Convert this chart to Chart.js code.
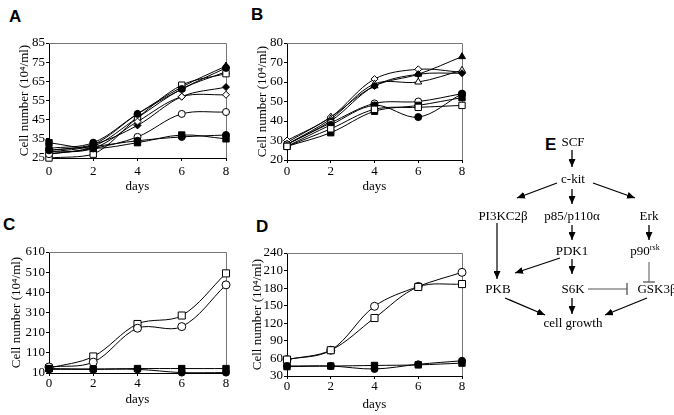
<!DOCTYPE html>
<html>
<head>
<meta charset="utf-8">
<script src="https://cdn.jsdelivr.net/npm/chart.js@4.4.0/dist/chart.umd.min.js"></script>
<style>
  html, body { margin:0; padding:0; background:#fff; }
  #page { position:relative; width:674px; height:415px; overflow:hidden; background:#fff; }
  canvas { position:absolute; }
  .lbl { position:absolute; font-family:'Liberation Sans', Arial, sans-serif; font-weight:bold; font-size:17px; color:#000; line-height:1; }
  svg { position:absolute; left:0; top:0; }
  .serif { font-family: "Liberation Serif", "DejaVu Serif", "Noto Serif", Tinos, "Times New Roman", Times, serif; }
</style>
</head>
<body>
<div id="page">
  <canvas id="cA" width="236" height="172" style="left:0px;top:28px;width:236px;height:172px"></canvas>
  <canvas id="cB" width="232" height="172" style="left:236px;top:28px;width:232px;height:172px"></canvas>
  <canvas id="cC" width="236" height="179" style="left:0px;top:236px;width:236px;height:179px"></canvas>
  <canvas id="cD" width="232" height="179" style="left:236px;top:236px;width:232px;height:179px"></canvas>
  <div class="lbl" style="left:9px;top:8px">A</div>
  <div class="lbl" style="left:251px;top:6px">B</div>
  <div class="lbl" style="left:3px;top:216px">C</div>
  <div class="lbl" style="left:256px;top:218px">D</div>
  <div class="lbl" style="left:545px;top:136px">E</div>
  <svg width="674" height="415" viewBox="0 0 674 415">
    <defs>
      <marker id="ah" markerWidth="8" markerHeight="7" refX="8" refY="3.5" orient="auto" markerUnits="userSpaceOnUse">
        <path d="M0,0 L8,3.5 L0,7 Z" fill="#000"/>
      </marker>
    </defs>
    <g class="serif" font-size="13" fill="#000" text-anchor="middle">
      <text x="573" y="146">SCF</text>
      <text x="573" y="183">c-kit</text>
      <text x="503" y="220">PI3KC2β</text>
      <text x="572" y="220">p85/p110α</text>
      <text x="649" y="220">Erk</text>
      <text x="572" y="255">PDK1</text>
      <text x="645" y="255">p90<tspan font-size="8" dy="-5">rsk</tspan></text>
      <text x="498" y="293">PKB</text>
      <text x="573" y="293">S6K</text>
      <text x="657" y="293">GSK3β</text>
      <text x="573" y="327">cell growth</text>
    </g>
    <g stroke="#000" stroke-width="1.3" fill="none">
      <line x1="572" y1="150" x2="572" y2="167" marker-end="url(#ah)"/>
      <line x1="557" y1="183" x2="517" y2="198" marker-end="url(#ah)"/>
      <line x1="572" y1="189" x2="572" y2="204" marker-end="url(#ah)"/>
      <line x1="593" y1="183" x2="635" y2="198" marker-end="url(#ah)"/>
      <line x1="572" y1="225" x2="572" y2="240" marker-end="url(#ah)"/>
      <line x1="649" y1="225" x2="649" y2="240" marker-end="url(#ah)"/>
      <line x1="560" y1="258" x2="515" y2="273" marker-end="url(#ah)"/>
      <line x1="572" y1="259" x2="572" y2="274" marker-end="url(#ah)"/>
      <line x1="505" y1="298" x2="545" y2="315" marker-end="url(#ah)"/>
      <line x1="572" y1="298" x2="572" y2="314" marker-end="url(#ah)"/>
      <line x1="647" y1="298" x2="605" y2="315" marker-end="url(#ah)"/>
    </g>
    <g stroke="#555" stroke-width="1" fill="none">
      <line x1="497" y1="223" x2="497" y2="279" stroke="#000" stroke-width="1.2" marker-end="url(#ah)"/>
      <line x1="649" y1="262" x2="649" y2="282"/>
      <line x1="643" y1="282" x2="655" y2="282" stroke-width="1.3"/>
      <line x1="588" y1="289" x2="627" y2="289"/>
      <line x1="627" y1="283" x2="627" y2="295" stroke-width="1.3"/>
    </g>
  </svg>
</div>
<script>
// ---------- data ----------
const days = [0, 2, 4, 6, 8];

// Panel A
const ticksA = [25, 35, 45, 55, 65, 75, 85];
const A_triFilled   = [28, 32, 48, 62, 73];
const A_triOpen     = [27, 31, 46, 61, 70];
const A_sqOpen      = [25, 27, 46, 63, 69];
const A_circFilledH = [30, 33, 48, 61, 72];
const A_diaFilled   = [29, 32, 42, 57, 62];
const A_diaOpen     = [28, 30, 44, 57, 58];
const A_circOpen    = [27, 30, 36, 48, 49];
const A_circFilled  = [29, 31, 34, 36, 37];
const A_sqFilled    = [33, 30, 33, 37, 35];

// Panel B
const ticksB = [20, 30, 40, 50, 60, 70, 80];
const B_triFilled  = [29, 42, 58, 64, 73];
const B_diaOpen    = [30, 42, 61.5, 66.5, 65];
const B_triOpen    = [28, 41, 59, 60, 66];
const B_diaFilled  = [28, 40, 58, 64, 64.5];
const B_circOpen   = [28, 39, 49, 50, 54];
const B_circFilled = [27, 38, 48, 42, 54];
const B_sqFilled   = [27, 34, 45, 48, 52];
const B_sqOpen     = [27, 36, 46, 47, 48];

// Panel C
const ticksC = [10, 110, 210, 310, 410, 510, 610];
const C_sqOpen     = [34, 92, 253, 295, 504];
const C_circOpen   = [40, 64, 232, 240, 447];
const C_sqFilled   = [32, 30, 32, 32, 32];
const C_circFilled = [28, 28, 28, 12, 12];

// Panel D
const ticksD = [30, 60, 90, 120, 150, 180, 210, 240];
const D_circOpen   = [58, 74, 149, 183, 207];
const D_sqOpen     = [58, 74, 129, 182, 187];
const D_sqFilled   = [46, 47, 48, 49, 52];
const D_circFilled = [47, 47, 42, 50, 56];

// ---------- drawing ----------
const SERIF = '"Liberation Serif", "DejaVu Serif", "Noto Serif", Tinos, "Times New Roman", Times, serif';

const boxPlugin = {
  id: 'box',
  beforeDatasetsDraw(chart) {
    const { ctx, chartArea: a } = chart;
    ctx.save();
    ctx.strokeStyle = '#777';
    ctx.lineWidth = 1;
    ctx.beginPath();
    ctx.moveTo(a.left, Math.round(a.top) + 0.5);
    ctx.lineTo(Math.round(a.right) + 0.5, Math.round(a.top) + 0.5);
    ctx.lineTo(Math.round(a.right) + 0.5, a.bottom);
    ctx.stroke();
    ctx.restore();
  }
};

function S(values, shape, filled, r) {
  return { values, shape, filled, r: r || 3.5 };
}

function makeChart(id, cfg) {
  const box = cfg.box, area = cfg.area;
  const yW = area.left - box.left;
  const xH = box.top + box.h - area.bottom;
  const tickLen = 3;
  const xTickPad = Math.max(0, cfg.xTickC - area.bottom - tickLen - 7.5);
  new Chart(document.getElementById(id), {
    type: 'line',
    data: {
      datasets: cfg.series.map(s => ({
        data: days.map((d, i) => ({ x: d, y: s.values[i] })),
        borderColor: '#000',
        borderWidth: 1,
        tension: 0.35,
        fill: false,
        pointStyle: s.shape,
        pointRadius: s.r,
        pointBackgroundColor: s.filled ? '#000' : '#fff',
        pointBorderColor: '#000',
        pointBorderWidth: 1,
        clip: false
      }))
    },
    options: {
      responsive: false,
      animation: false,
      events: [],
      layout: { padding: { left: 0, top: area.top - box.top, right: box.left + box.w - area.right, bottom: 0 } },
      plugins: { legend: { display: false }, tooltip: { enabled: false } },
      scales: {
        x: {
          type: 'linear', min: 0, max: 8,
          afterBuildTicks: sc => { sc.ticks = days.map(v => ({ value: v })); },
          afterFit: sc => { sc.height = xH; },
          grid: { drawOnChartArea: false, drawTicks: true, tickLength: tickLen, color: '#000' },
          border: { color: '#000', width: 1 },
          ticks: { color: '#000', font: { family: SERIF, size: 13 }, padding: xTickPad, maxRotation: 0, autoSkip: false },
          title: { display: true, text: 'days', color: '#000', font: { family: SERIF, size: 13 },
                   padding: { top: 0, bottom: (box.top + box.h - cfg.daysY) - 7.8 } }
        },
        y: {
          type: 'linear', min: cfg.ticks[0], max: cfg.ticks[cfg.ticks.length - 1],
          afterBuildTicks: sc => { sc.ticks = cfg.ticks.map(v => ({ value: v })); },
          afterFit: sc => { sc.width = yW; },
          grid: { drawOnChartArea: false, drawTicks: true, tickLength: tickLen, color: '#000' },
          border: { color: '#000', width: 1 },
          ticks: { color: '#000', font: { family: SERIF, size: 13 }, padding: 1, autoSkip: false },
          title: { display: true, text: 'Cell number (10⁴/ml)', color: '#000', font: { family: SERIF, size: 13 },
                   padding: { top: (cfg.yTitleX - box.left) - 7.8, bottom: 0 } }
        }
      }
    },
    plugins: [boxPlugin]
  });
}

makeChart('cA', {
  box: { left: 0, top: 28, w: 236, h: 172 },
  area: { left: 49, top: 43, right: 226, bottom: 158 },
  yTitleX: 25, daysY: 187, xTickC: 171.5,
  ticks: ticksA,
  series: [
    S(A_sqFilled, 'rect', true, 4.5),
    S(A_circFilled, 'circle', true),
    S(A_circOpen, 'circle', false),
    S(A_diaOpen, 'rectRot', false),
    S(A_diaFilled, 'rectRot', true),
    S(A_circFilledH, 'circle', true),
    S(A_sqOpen, 'rect', false, 4.5),
    S(A_triOpen, 'triangle', false, 4),
    S(A_triFilled, 'triangle', true, 4)
  ]
});

makeChart('cB', {
  box: { left: 236, top: 28, w: 232, h: 172 },
  area: { left: 287, top: 43, right: 462, bottom: 160 },
  yTitleX: 263, daysY: 187, xTickC: 171.5,
  ticks: ticksB,
  series: [
    S(B_sqOpen, 'rect', false, 4.5),
    S(B_sqFilled, 'rect', true, 4.5),
    S(B_circFilled, 'circle', true),
    S(B_circOpen, 'circle', false),
    S(B_diaFilled, 'rectRot', true),
    S(B_triOpen, 'triangle', false, 4),
    S(B_diaOpen, 'rectRot', false),
    S(B_triFilled, 'triangle', true, 4)
  ]
});

makeChart('cC', {
  box: { left: 0, top: 236, w: 236, h: 179 },
  area: { left: 49, top: 252, right: 226, bottom: 373 },
  yTitleX: 17, daysY: 400, xTickC: 383,
  ticks: ticksC,
  series: [
    S(C_circFilled, 'circle', true),
    S(C_sqFilled, 'rect', true, 4.5),
    S(C_circOpen, 'circle', false, 4),
    S(C_sqOpen, 'rect', false, 5)
  ]
});

makeChart('cD', {
  box: { left: 236, top: 236, w: 232, h: 179 },
  area: { left: 287, top: 253, right: 462, bottom: 376 },
  yTitleX: 258, daysY: 405, xTickC: 385,
  ticks: ticksD,
  series: [
    S(D_circFilled, 'circle', true),
    S(D_sqFilled, 'rect', true, 4.5),
    S(D_sqOpen, 'rect', false, 5),
    S(D_circOpen, 'circle', false, 4)
  ]
});
</script>
</body>
</html>
